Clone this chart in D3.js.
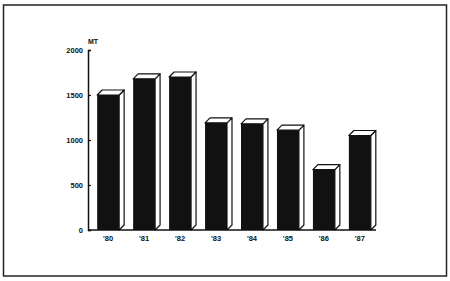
<!DOCTYPE html>
<html>
<head>
<meta charset="utf-8">
<script src="https://cdn.jsdelivr.net/npm/d3@7"></script>
<style>
  body { margin: 0; background: #fff; }
  text { font-family: "Liberation Sans", Arial, sans-serif; font-weight: bold; fill: #111; }
</style>
</head>
<body>
<div id="chart"></div>
<script>
var years = ["'80", "'81", "'82", "'83", "'84", "'85", "'86", "'87"];
var tonnes = [1500, 1680, 1700, 1190, 1180, 1110, 670, 1050];
var yTicks = [0, 500, 1000, 1500, 2000];

var width = 450, height = 281,
    depth = 5,
    svg = d3.select('#chart')
        .append('svg')
        .attr('width', width)
        .attr('height', height);

// frame round the whole figure
svg.append('rect')
    .attr('x', 3.5).attr('y', 5)
    .attr('width', 443).attr('height', 271)
    .attr('fill', 'none')
    .attr('stroke', '#222')
    .attr('stroke-width', 1.5);

var x = d3.scaleBand()
    .domain(years)
    .range([90, 378])
    .paddingInner(0.39)
    .paddingOuter(0.2);

var y = d3.scaleLinear()
    .domain([0, 2000])
    .range([230, 50]);

var data = years.map(function (d, i) {
    return { year: d, value: tonnes[i] };
});

var bar = svg.selectAll('.bar')
    .data(data)
    .enter().append('g')
    .attr('class', 'bar');

// side face
bar.append('path')
    .attr('d', function (d) {
        var x1 = x(d.year) + x.bandwidth(), t = y(d.value), b = y(0);
        return 'M' + x1 + ',' + t + 'L' + (x1 + depth) + ',' + (t - depth) +
            'L' + (x1 + depth) + ',' + (b - depth) + 'L' + x1 + ',' + b + 'Z';
    })
    .attr('fill', '#fff')
    .attr('stroke', '#111')
    .attr('stroke-width', 1.2)
    .attr('stroke-linejoin', 'round');

// top face
bar.append('path')
    .attr('d', function (d) {
        var x0 = x(d.year), x1 = x0 + x.bandwidth(), t = y(d.value);
        return 'M' + x0 + ',' + t + 'L' + (x0 + depth) + ',' + (t - depth) +
            'L' + (x1 + depth) + ',' + (t - depth) + 'L' + x1 + ',' + t + 'Z';
    })
    .attr('fill', '#fff')
    .attr('stroke', '#111')
    .attr('stroke-width', 1.2)
    .attr('stroke-linejoin', 'round');

// front face
bar.append('rect')
    .attr('x', function (d) { return x(d.year); })
    .attr('y', function (d) { return y(d.value); })
    .attr('width', x.bandwidth())
    .attr('height', function (d) { return y(0) - y(d.value); })
    .attr('fill', '#111');

// axes
var yAxis = svg.append('g')
    .attr('transform', 'translate(88,0)')
    .call(d3.axisLeft(y).tickValues(yTicks).tickFormat(d3.format('d'))
        .tickSize(-3).tickPadding(5));
yAxis.select('.domain').attr('stroke', '#111').attr('stroke-width', 1.5);
yAxis.selectAll('.tick line').attr('stroke', '#111').attr('stroke-width', 1.2);
yAxis.selectAll('text').style('font-size', '7.5px').attr('fill', '#111');

svg.append('line')
    .attr('x1', 88).attr('x2', 376)
    .attr('y1', y(0)).attr('y2', y(0))
    .attr('stroke', '#111')
    .attr('stroke-width', 1.5);

svg.selectAll('.year')
    .data(years)
    .enter().append('text')
    .attr('class', 'year')
    .attr('x', function (d) { return x(d) + x.bandwidth() / 2; })
    .attr('y', 241)
    .attr('text-anchor', 'middle')
    .style('font-size', '7.5px')
    .text(function (d) { return d; });

svg.append('text')
    .attr('x', 88)
    .attr('y', 44)
    .style('font-size', '7px')
    .text('MT');
</script>
</body>
</html>
